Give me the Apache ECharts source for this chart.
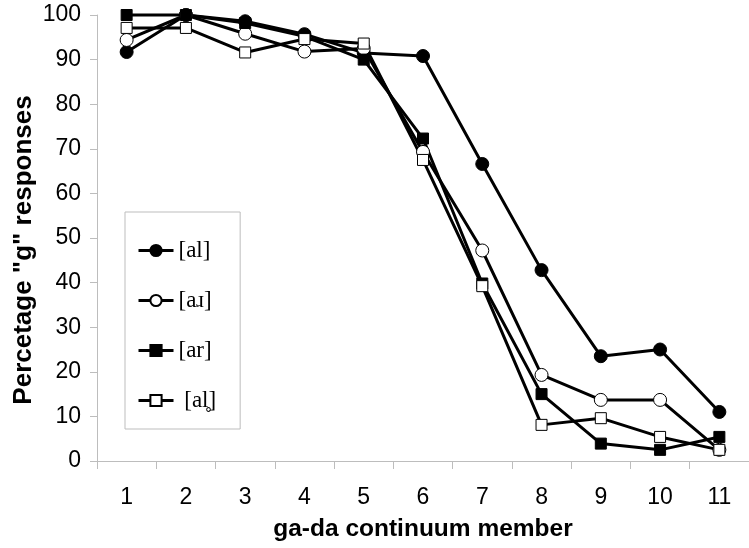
<!DOCTYPE html>
<html><head><meta charset="utf-8">
<script src="https://cdn.jsdelivr.net/npm/echarts@6/dist/echarts.min.js"></script>
<style>html,body{margin:0;padding:0;background:#fff}#c{width:749px;height:548px}</style>
</head><body><div id="c"></div>
<script>
const categories = ['1','2','3','4','5','6','7','8','9','10','11'];
const seriesNames = ['[al]', '[aɹ]', '[ar]', ' [al̥]'];
const valsAl   = [91.7, 100, 98.6, 95.7, 91.5, 90.8, 66.6, 42.8, 23.5, 25.0, 11.0];
const valsAr_r = [94.4, 100, 95.8, 91.8, 92.5, 69.3, 47.2, 19.3, 13.7, 13.7, 2.5];
const valsAr   = [100, 100, 98.2, 95.2, 90.0, 72.3, 39.8, 15.0, 3.9, 2.5, 5.4];
const valsAl0  = [97.1, 97.1, 91.6, 94.6, 93.6, 67.5, 39.2, 8.1, 9.6, 5.4, 2.5];
const yTicks = {min: 0, max: 100, interval: 10};
const xTitle = 'ga-da continuum member';
const yTitle = 'Percetage "g" responses';

const chart = echarts.init(document.getElementById('c'), null, {renderer: 'canvas'});
function mk(name, data, symbol, size, fill) {
  return {
    name: name, type: 'line', data: data, symbol: symbol, symbolSize: size,
    clip: false,
    lineStyle: {color: '#000', width: 3},
    itemStyle: {color: fill, borderColor: '#000', borderWidth: 1},
    emphasis: {disabled: true}
  };
}
chart.setOption({
  animation: false,
  backgroundColor: '#fff',
  grid: {left: 97, right: -3, top: 15, bottom: 87, containLabel: false},
  xAxis: {
    type: 'category', data: categories, boundaryGap: true,
    axisLine: {lineStyle: {color: '#bdbdbd', width: 1}},
    axisTick: {show: true, length: 8, lineStyle: {color: '#bdbdbd'}},
    axisLabel: {color: '#000', fontSize: 23, fontFamily: 'Liberation Sans', margin: 25},
    name: xTitle, nameLocation: 'middle', nameGap: 56,
    nameTextStyle: {color: '#000', fontSize: 24.5, fontWeight: 'bold', fontFamily: 'Liberation Sans'}
  },
  yAxis: {
    type: 'value', min: yTicks.min, max: yTicks.max, interval: yTicks.interval,
    splitLine: {show: false},
    axisLine: {show: true, lineStyle: {color: '#bdbdbd', width: 1}},
    axisTick: {show: true, length: 7, lineStyle: {color: '#bdbdbd'}},
    axisLabel: {color: '#000', fontSize: 23, fontFamily: 'Liberation Sans', margin: 16}
  },
  graphic: [{
    type: 'text', x: 24, y: 250, rotation: Math.PI / 2,
    style: {text: yTitle, fill: '#000', font: 'bold 26px "Liberation Sans"', align: 'center', verticalAlign: 'middle'}
  }],
  legend: {
    orient: 'vertical', left: 125, top: 212,
    padding: [27, 24, 17, 12], itemGap: 27, itemWidth: 35, itemHeight: 14,
    borderColor: '#bdbdbd', borderWidth: 1, backgroundColor: '#fff',
    lineStyle: {width: 3, color: '#000'},
    textStyle: {color: '#000', fontSize: 23, fontFamily: 'Liberation Serif', lineHeight: 22},
    data: seriesNames
  },
  series: [
    mk(seriesNames[0], valsAl, 'circle', 13, '#000'),
    mk(seriesNames[1], valsAr_r, 'circle', 13, '#fff'),
    mk(seriesNames[2], valsAr, 'rect', 11, '#000'),
    mk(seriesNames[3], valsAl0, 'rect', 11, '#fff')
  ]
});
</script></body></html>
